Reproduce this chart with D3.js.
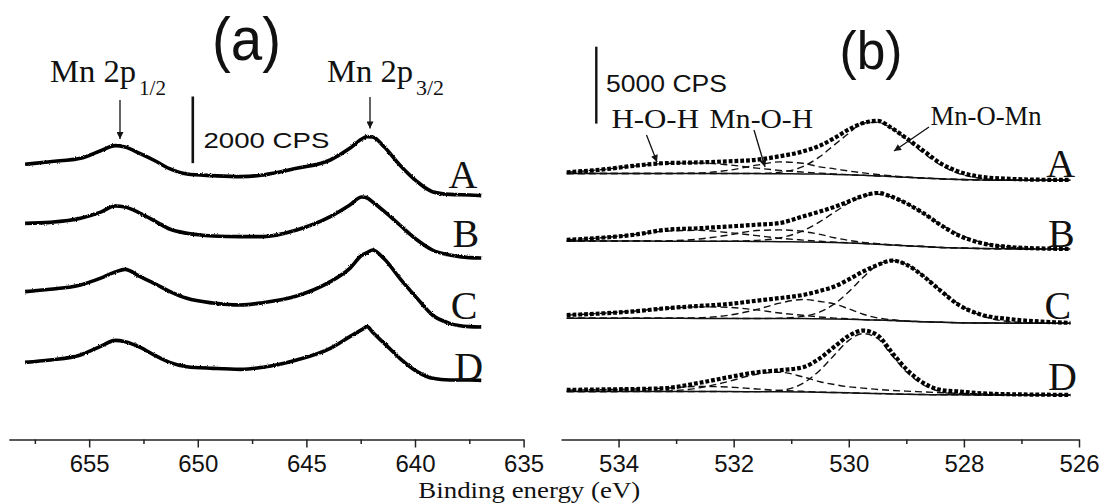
<!DOCTYPE html>
<html>
<head>
<meta charset="utf-8">
<script src="https://cdnjs.cloudflare.com/ajax/libs/d3/7.8.5/d3.min.js"></script>
<style>
  body { margin: 0; background: #fff; }
  svg { display: block; }
  .sans { font-family: "Liberation Sans", Arial, sans-serif; }
  .serif { font-family: "Liberation Serif", "Times New Roman", serif; }
</style>
</head>
<body>
<div id="chart"></div>
<script>
const WIDTH = 1100, HEIGHT = 504;

// ---- panel (a): Mn 2p, binding energy (eV) vs counts (CPS, stacked) ----
const energyMn = [657.95, 656.8, 655.4, 654.5, 653.8, 653.35, 652.65, 651.95, 651.3, 650.5, 649.3, 648.05, 647.0,
                  645.45, 643.9, 643.0, 642.45, 642.2, 641.95, 641.4, 640.7, 639.9, 639.2, 638.4, 637.5, 636.95];
const mnA = [8300, 8380, 8480, 8700, 8860, 8820, 8620, 8400, 8170, 8010, 7960, 7930, 7980, 8180, 8430, 8780, 9060, 9130, 9120, 8810, 8280, 7780, 7480, 7400, 7380, 7360];
const mnB = [6530, 6560, 6680, 6860, 7050, 7020, 6830, 6590, 6360, 6230, 6150, 6130, 6130, 6330, 6730, 7080, 7320, 7290, 7170, 6880, 6480, 6030, 5730, 5580, 5500, 5490];
const mnC = [4480, 4550, 4680, 4880, 5070, 5150, 4930, 4710, 4490, 4280, 4140, 4080, 4150, 4350, 4780, 5180, 5570, 5650, 5730, 5450, 4880, 4280, 3780, 3530, 3430, 3420];
const mnD = [2360, 2430, 2580, 2830, 3020, 2980, 2810, 2560, 2360, 2230, 2180, 2150, 2210, 2430, 2780, 3130, 3340, 3430, 3260, 2920, 2480, 2080, 1880, 1830, 1830, 1820];
const ticksMn = [655, 650, 645, 640, 635];
const minorMn = [657.5, 652.5, 647.5, 642.5, 637.5];

// ---- panel (b): O 1s, measured points, background and fitted components ----
const energyO = [534.9, 534.3, 533.7, 533.2, 532.6, 532.1, 531.6, 531.2, 530.8, 530.5, 530.25, 530.0,
                 529.75, 529.5, 529.25, 529.0, 528.7, 528.4, 528.1, 527.7, 527.2, 526.6, 526.15];
const oA = [17470, 17640, 17900, 18060, 18110, 18180, 18280, 18510, 18820, 19200, 19690, 20250, 20670, 20810, 20330, 19680, 18860, 18040, 17520, 17170, 17040, 16980, 16970];
const oB = [13070, 13210, 13420, 13720, 13830, 13940, 14060, 14170, 14590, 14920, 15220, 15570, 15930, 16120, 15870, 15450, 14800, 14030, 13380, 12870, 12610, 12510, 12480];
const oC = [8190, 8290, 8440, 8620, 8780, 8900, 9120, 9290, 9490, 9760, 10040, 10500, 11020, 11440, 11730, 11470, 10700, 9750, 8870, 8210, 7920, 7750, 7680];
const oD = [3320, 3350, 3380, 3430, 3780, 4140, 4470, 4600, 4790, 5380, 6130, 6840, 7180, 6870, 5750, 4670, 3770, 3320, 3220, 3100, 3040, 3010, 2990];
// background lines
const bgA = [17390, 17390, 17390, 17390, 17390, 17390, 17380, 17370, 17360, 17350, 17330, 17300, 17270, 17230, 17190, 17140, 17090, 17040, 17000, 16970, 16950, 16950, 16950];
const bgB = [13000, 13000, 13000, 12990, 12990, 12980, 12970, 12950, 12940, 12920, 12900, 12870, 12830, 12790, 12740, 12690, 12640, 12580, 12550, 12510, 12490, 12480, 12480];
const bgC = [7980, 7980, 7980, 7980, 7970, 7970, 7960, 7960, 7960, 7940, 7930, 7910, 7880, 7860, 7830, 7790, 7750, 7720, 7690, 7670, 7660, 7650, 7650];
const bgD = [3220, 3220, 3220, 3220, 3220, 3210, 3200, 3200, 3190, 3170, 3150, 3130, 3110, 3080, 3060, 3040, 3020, 3000, 3000, 2990, 2990, 2990, 2990];
// component heights above background
const hohA = [80, 250, 490, 650, 680, 560, 360, 220, 120, 60, 30, 10, 0, 0, 0, 0, 0, 0, 0, 0, 0, 0, 0];
const mnohA = [0, 0, 0, 0, 30, 200, 550, 770, 690, 470, 360, 250, 160, 90, 50, 20, 0, 0, 0, 0, 0, 0, 0];
const mnomnA = [0, 0, 0, 0, 0, 0, 10, 100, 470, 1140, 1920, 2700, 3400, 3480, 3120, 2480, 1610, 880, 400, 110, 10, 0, 0];
const hohB = [70, 210, 430, 650, 700, 570, 380, 230, 120, 60, 30, 10, 0, 0, 0, 0, 0, 0, 0, 0, 0, 0, 0];
const mnohB = [0, 0, 0, 20, 140, 400, 710, 770, 680, 510, 310, 170, 80, 40, 10, 0, 0, 0, 0, 0, 0, 0, 0];
const mnomnB = [0, 0, 0, 0, 0, 10, 70, 250, 720, 1340, 1970, 2600, 3070, 3250, 3120, 2770, 2150, 1490, 920, 400, 110, 10, 0];
const hohC = [210, 320, 470, 640, 750, 720, 560, 360, 210, 120, 60, 30, 10, 0, 0, 0, 0, 0, 0, 0, 0, 0, 0];
const mnohC = [0, 0, 0, 0, 40, 200, 590, 1000, 1240, 1130, 980, 680, 360, 140, 50, 20, 0, 0, 0, 0, 0, 0, 0];
const mnomnC = [0, 0, 0, 0, 0, 0, 0, 20, 140, 450, 980, 1790, 2760, 3580, 3900, 3690, 3000, 2090, 1240, 490, 100, 10, 0];
const hohD = [90, 120, 160, 210, 330, 300, 180, 90, 40, 10, 0, 0, 0, 0, 0, 0, 0, 0, 0, 0, 0, 0, 0];
const mnohD = [0, 0, 10, 30, 230, 650, 1140, 1270, 980, 680, 520, 390, 330, 270, 230, 200, 170, 140, 100, 70, 30, 10, 0];
const mnomnD = [0, 0, 0, 0, 0, 0, 10, 80, 550, 1430, 2440, 3410, 3870, 3580, 2500, 1460, 620, 200, 50, 10, 0, 0, 0];
const ticksO = [534, 532, 530, 528, 526];
const minorO = [533, 531, 529, 527];

const sampleNames = ["A", "B", "C", "D"];

const mnSpectra = [mnA, mnB, mnC, mnD];
const oSpectra = [
  {data: oA, bg: bgA, comps: [hohA, mnohA, mnomnA]},
  {data: oB, bg: bgB, comps: [hohB, mnohB, mnomnB]},
  {data: oC, bg: bgC, comps: [hohC, mnohC, mnomnC]},
  {data: oD, bg: bgD, comps: [hohD, mnohD, mnomnD]}
];

let svg = d3.select("#chart").append("svg")
    .attr("width", WIDTH)
    .attr("height", HEIGHT);

svg.append("rect").attr("width", WIDTH).attr("height", HEIGHT).attr("fill", "#fff");

let defs = svg.append("defs");
// slight roughness so the Mn 2p traces look like raw counts
let rough = defs.append("filter").attr("id", "rough")
    .attr("x", "-2%").attr("y", "-10%").attr("width", "104%").attr("height", "120%");
rough.append("feTurbulence").attr("type", "fractalNoise").attr("baseFrequency", 1.1)
    .attr("numOctaves", 1).attr("seed", 3).attr("result", "n");
rough.append("feDisplacementMap").attr("in", "SourceGraphic").attr("in2", "n")
    .attr("scale", 2.6).attr("xChannelSelector", "R").attr("yChannelSelector", "G");

defs.append("marker").attr("id", "head")
    .attr("viewBox", "0 0 10 10").attr("refX", 10).attr("refY", 5)
    .attr("markerWidth", 10).attr("markerHeight", 7).attr("markerUnits", "userSpaceOnUse")
    .attr("orient", "auto")
    .append("path").attr("d", "M0,0L10,5L0,10Z").attr("fill", "#111");

// scales
const AXIS_Y = 439.5;
let xMn = d3.scaleLinear().domain([658.7, 635]).range([8.8, 523.6]);
let yMn = d3.scaleLinear().domain([0, 13000]).range([441, 441 - 13000 / 30]);
let xO = d3.scaleLinear().domain([535, 526]).range([561, 1079]);
let yO = d3.scaleLinear().domain([0, 28000]).range([441, 441 - 28000 / 65]);

// axes
function drawAxis(x, major, minor) {
  let g = svg.append("g")
      .attr("transform", `translate(0,${AXIS_Y})`)
      .call(d3.axisBottom(x).tickValues(major).tickSize(8).tickPadding(8).tickSizeOuter(0));
  g.select(".domain").attr("stroke", "#222").attr("stroke-width", 1.6);
  g.selectAll(".tick line").attr("stroke", "#222").attr("stroke-width", 1.5);
  g.selectAll(".tick text")
      .attr("fill", "#111")
      .attr("textLength", 40)
      .attr("lengthAdjust", "spacingAndGlyphs")
      .style("font-family", '"Liberation Sans", Arial, sans-serif')
      .style("font-size", "23px");

  let m = svg.append("g")
      .attr("transform", `translate(0,${AXIS_Y})`)
      .call(d3.axisBottom(x).tickValues(minor).tickSize(4.5).tickFormat(""));
  m.select(".domain").remove();
  m.selectAll(".tick line").attr("stroke", "#222").attr("stroke-width", 1.5);
}
drawAxis(xMn, ticksMn, minorMn);
drawAxis(xO, ticksO, minorO);

// panel (a) traces
let lineMn = d3.line()
    .x(function(d, i) { return xMn(energyMn[i]); })
    .y(function(d) { return yMn(d); })
    .curve(d3.curveMonotoneX);

svg.append("g").attr("filter", "url(#rough)")
  .selectAll("path").data(mnSpectra).enter()
  .append("path")
    .attr("d", lineMn)
    .attr("fill", "none")
    .attr("stroke", "#000")
    .attr("stroke-width", 3.6)
    .attr("stroke-linejoin", "round");

// panel (b): background, components, data points
let lineO = d3.line()
    .x(function(d, i) { return xO(energyO[i]); })
    .y(function(d) { return yO(d); })
    .curve(d3.curveMonotoneX);

oSpectra.forEach(function(s) {
  svg.append("path").attr("d", lineO(s.bg))
      .attr("fill", "none").attr("stroke", "#111").attr("stroke-width", 1.5);
  s.comps.forEach(function(c) {
    let full = c.map(function(v, i) { return v + s.bg[i]; });
    svg.append("path").attr("d", lineO(full))
        .attr("fill", "none").attr("stroke", "#111").attr("stroke-width", 1.4)
        .attr("stroke-dasharray", "7,4");
  });
  svg.append("path").attr("d", lineO(s.data))
      .attr("fill", "none").attr("stroke", "#000").attr("stroke-width", 4.2)
      .attr("stroke-dasharray", "3.8,2");
});

// text helper
function label(x, y, str, cls, size, len) {
  let t = svg.append("text").attr("x", x).attr("y", y)
      .attr("class", cls).attr("font-size", size).attr("fill", "#111").text(str);
  if (len) t.attr("textLength", len).attr("lengthAdjust", "spacingAndGlyphs");
  return t;
}

function arrow(x1, y1, x2, y2) {
  svg.append("line").attr("x1", x1).attr("y1", y1).attr("x2", x2).attr("y2", y2)
      .attr("stroke", "#111").attr("stroke-width", 1.3).attr("marker-end", "url(#head)");
}

// panel titles
label(212, 60, "(a)", "sans", 62, 69);
label(839.5, 69, "(b)", "sans", 54, 63);

// Mn 2p peak labels
label(50, 81.7, "Mn 2p", "serif", 31, 86);
label(139, 95, "1/2", "serif", 21, 27);
label(327, 81.7, "Mn 2p", "serif", 31, 86);
label(416, 95, "3/2", "serif", 21, 28);
arrow(120, 100, 120, 139);
arrow(370, 97, 370, 128.5);

// scale bars
let barA = yMn(0) - yMn(2000);
svg.append("line").attr("x1", 192.8).attr("x2", 192.8).attr("y1", 96.5).attr("y2", 96.5 + barA)
    .attr("stroke", "#111").attr("stroke-width", 2.6);
label(203.4, 147.7, "2000 CPS", "sans", 22, 126);

let barB = yO(0) - yO(5000);
svg.append("line").attr("x1", 596.3).attr("x2", 596.3).attr("y1", 46.7).attr("y2", 46.7 + barB)
    .attr("stroke", "#111").attr("stroke-width", 2.4);
label(606, 91.7, "5000 CPS", "sans", 23, 121);

// component labels
label(611.4, 128.3, "H-O-H", "serif", 28, 87.6);
label(709.6, 128.3, "Mn-O-H", "serif", 28, 103.4);
label(930.6, 125, "Mn-O-Mn", "serif", 28, 111);
arrow(646.5, 135, 657, 162);
arrow(754, 130, 765, 167);
arrow(929, 127, 894, 151);

// sample letters
const letterMnPos = [[448.5, 188], [452.5, 247], [450.7, 318.5], [454.2, 380]];
const letterOPos = [[1046.3, 177], [1048, 247], [1044.6, 318.5], [1048, 390]];
sampleNames.forEach(function(n, i) {
  label(letterMnPos[i][0], letterMnPos[i][1], n, "serif", 40);
  label(letterOPos[i][0], letterOPos[i][1], n, "serif", 40);
});

// shared axis title
label(418.3, 497.5, "Binding energy (eV)", "serif", 24, 222);
</script>
</body>
</html>
